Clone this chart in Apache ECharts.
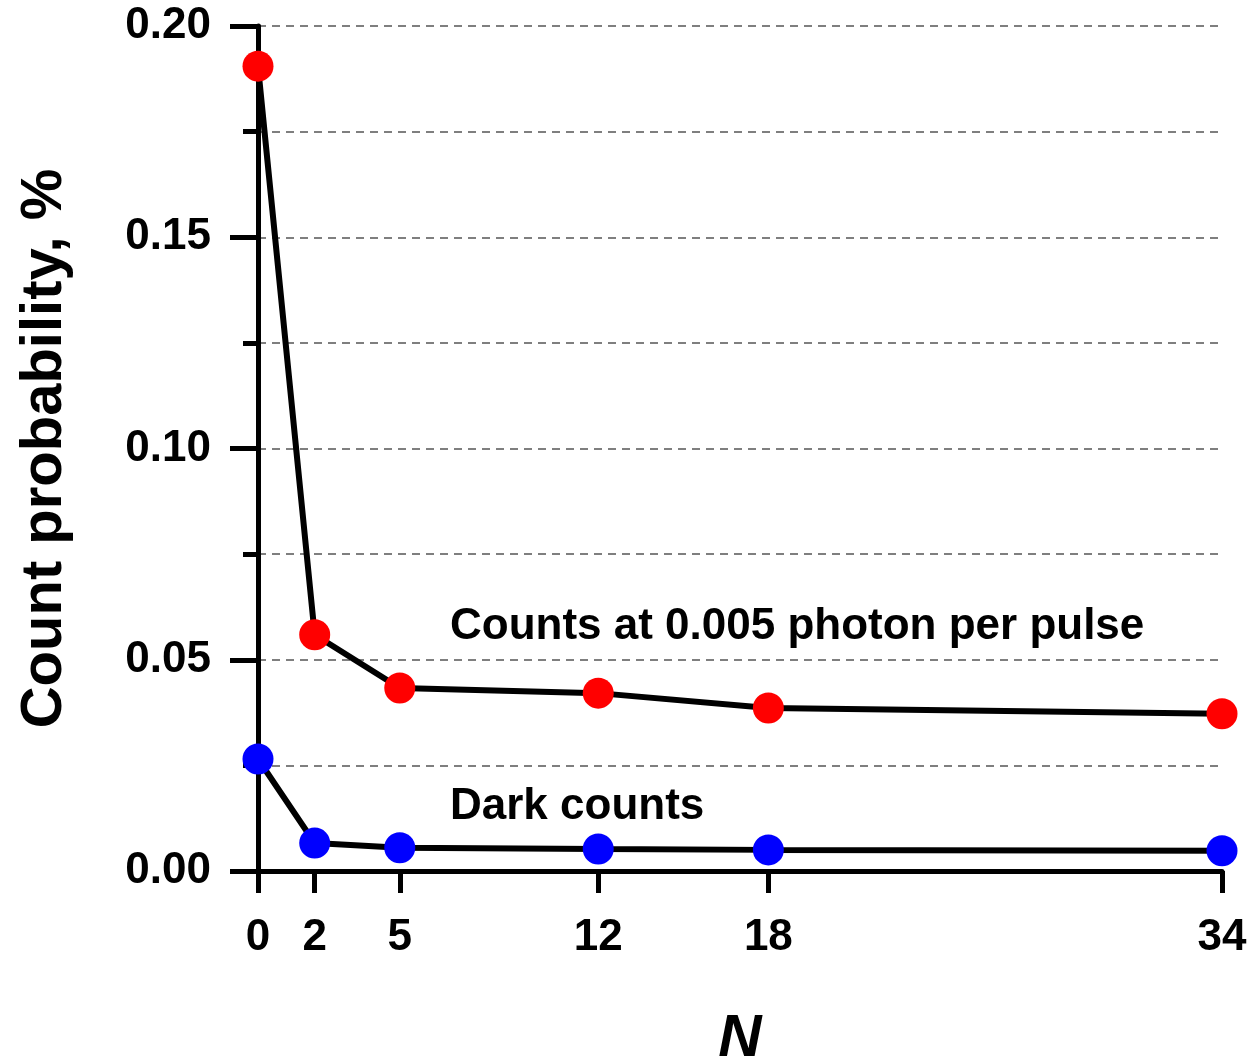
<!DOCTYPE html>
<html>
<head>
<meta charset="utf-8">
<script src="https://cdn.jsdelivr.net/npm/echarts@6/dist/echarts.min.js"></script>
<style>
  html, body { margin: 0; padding: 0; background: #fff; }
  #chart { width: 1250px; height: 1060px; }
</style>
</head>
<body>
<div id="chart"></div>
<script>
// N values (x) and the two count curves
var nValues = [0, 2, 5, 12, 18, 34];
var photonCounts = [0.1905, 0.0559, 0.0433, 0.0421, 0.0386, 0.0372];
var darkCounts = [0.0265, 0.0066, 0.0055, 0.0052, 0.0050, 0.0048];
var xTicks = [0, 2, 5, 12, 18, 34];

var fontFam = '"Liberation Sans", Arial, sans-serif';

function pairs(xs, ys) {
  var out = [];
  for (var i = 0; i < xs.length; i++) {
    out.push([xs[i], ys[i]]);
  }
  return out;
}

var chartDom = document.getElementById('chart');
var myChart = echarts.init(chartDom);
var option;

option = {
  animation: false,
  grid: { left: 258, right: 28, top: 26, bottom: 189, containLabel: false, outerBoundsMode: 'none' },
  xAxis: {
    type: 'value',
    min: 0,
    max: 34,
    name: 'N',
    nameLocation: 'middle',
    nameGap: 138,
    nameTextStyle: { fontFamily: fontFam, fontSize: 60, fontWeight: 'bold', fontStyle: 'italic', color: '#000' },
    axisLine: { show: true, onZero: false, lineStyle: { color: '#000', width: 5 } },
    axisTick: { show: true, customValues: xTicks, length: 22, lineStyle: { color: '#000', width: 5 } },
    axisLabel: { customValues: xTicks, margin: 45, fontFamily: fontFam, fontSize: 44, fontWeight: 'bold', color: '#000' },
    splitLine: { show: false }
  },
  yAxis: {
    type: 'value',
    min: 0,
    max: 0.2,
    interval: 0.05,
    name: 'Count probability, %',
    nameLocation: 'middle',
    nameGap: 184,
    nameTextStyle: { fontFamily: fontFam, fontSize: 58, fontWeight: 'bold', color: '#000' },
    axisLine: { show: true, lineStyle: { color: '#000', width: 5 } },
    axisTick: { show: true, length: 28, lineStyle: { color: '#000', width: 5 } },
    minorTick: { show: true, splitNumber: 2, length: 15, lineStyle: { color: '#000', width: 5 } },
    axisLabel: {
      margin: 47, fontFamily: fontFam, fontSize: 44, fontWeight: 'bold', color: '#000',
      formatter: function (v) { return v.toFixed(2); }
    },
    splitLine: { show: true, lineStyle: { color: '#555', width: 1.5, type: [8, 6] } },
    minorSplitLine: { show: true, lineStyle: { color: '#555', width: 1.5, type: [8, 6] } }
  },
  series: [
    {
      name: 'Counts at 0.005 photon per pulse',
      type: 'line',
      data: pairs(nValues, photonCounts),
      symbol: 'circle',
      symbolSize: 31,
      clip: false,
      lineStyle: { color: '#000', width: 6 },
      itemStyle: { color: '#ff0000' },
      z: 5
    },
    {
      name: 'Dark counts',
      type: 'line',
      data: pairs(nValues, darkCounts),
      symbol: 'circle',
      symbolSize: 31,
      clip: false,
      lineStyle: { color: '#000', width: 6 },
      itemStyle: { color: '#0000ff' },
      z: 5
    }
  ],
  graphic: [
    {
      type: 'text', left: 450, top: 605,
      style: { text: 'Counts at 0.005 photon per pulse', font: 'bold 44px ' + fontFam, fill: '#000' }
    },
    {
      type: 'text', left: 450, top: 785,
      style: { text: 'Dark counts', font: 'bold 44px ' + fontFam, fill: '#000' }
    }
  ]
};

option && myChart.setOption(option);
</script>
</body>
</html>
